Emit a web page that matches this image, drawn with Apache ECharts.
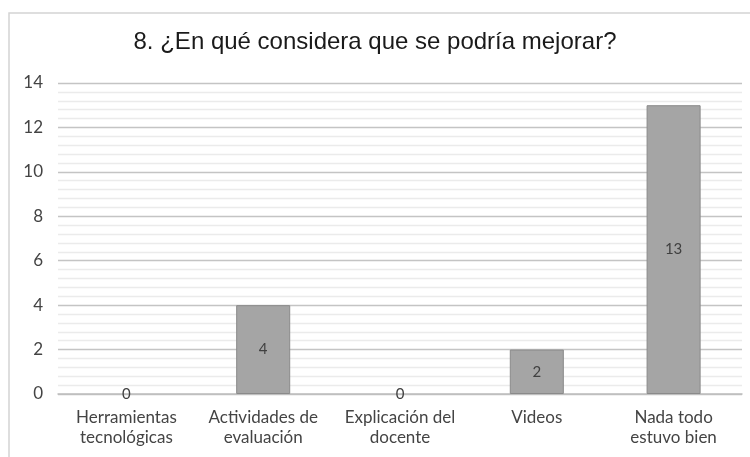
<!DOCTYPE html>
<html>
<head>
<meta charset="utf-8">
<script src="https://cdn.jsdelivr.net/npm/echarts@6/dist/echarts.min.js"></script>
<style>
  html, body { margin: 0; padding: 0; background: #ffffff; }
  #chart { width: 750px; height: 457px; }
</style>
</head>
<body>
<div id="chart"></div>
<script>
// Survey question 8: suggested improvements
const categories = [
  'Herramientas\ntecnológicas',
  'Actividades de\nevaluación',
  'Explicación del\ndocente',
  'Videos',
  'Nada todo\nestuvo bien'
];
const counts = [0, 4, 0, 2, 13];
const yTicks = { min: 0, max: 14, step: 2 };
const chartTitle = '8. ¿En qué considera que se podría mejorar?';

// empty bars get no outline so only their "0" label remains
const barData = counts.map(v => ({
  value: v,
  itemStyle: v === 0 ? { borderWidth: 0 } : undefined
}));

const chart = echarts.init(document.getElementById('chart'), null, { renderer: 'canvas' });

chart.setOption({
  animation: false,
  backgroundColor: '#ffffff',
  graphic: [{
    type: 'rect',
    shape: { x: 9, y: 13, width: 800, height: 500 },
    style: { fill: 'none', stroke: '#d4d4d4', lineWidth: 1.5 },
    silent: true,
    z: -1
  }],
  title: {
    text: chartTitle,
    left: 'center',
    top: 25,
    textStyle: {
      fontFamily: 'Liberation Sans, Arial, sans-serif',
      fontSize: 24,
      fontWeight: 'normal',
      color: '#1a1a1a'
    }
  },
  grid: { left: 58, right: 8, top: 83, bottom: 63, containLabel: false },
  xAxis: {
    type: 'category',
    data: categories,
    axisLine: { show: true, lineStyle: { color: '#bdbdbd', width: 1.5 } },
    axisTick: { show: false },
    axisLabel: {
      interval: 0,
      hideOverlap: false,
      color: '#444444',
      fontFamily: 'Lato, sans-serif',
      fontSize: 17,
      lineHeight: 20,
      margin: 14
    }
  },
  yAxis: {
    type: 'value',
    min: yTicks.min,
    max: yTicks.max,
    interval: yTicks.step,
    axisLine: { show: false },
    axisTick: { show: false },
    axisLabel: {
      color: '#444444',
      fontFamily: 'Lato, sans-serif',
      fontSize: 17,
      margin: 15
    },
    splitLine: { show: true, lineStyle: { color: '#c4c4c4', width: 1.3 } },
    minorTick: { show: false, splitNumber: 5 },
    minorSplitLine: { show: true, lineStyle: { color: '#ebebeb', width: 1.3 } }
  },
  series: [{
    type: 'bar',
    data: barData,
    barWidth: '39.5%',
    itemStyle: { color: '#a5a5a5', borderColor: '#8a8a8a', borderWidth: 1 },
    label: {
      show: true,
      position: 'inside',
      color: '#404040',
      fontFamily: 'Lato, sans-serif',
      fontSize: 15
    }
  }]
});
</script>
</body>
</html>
